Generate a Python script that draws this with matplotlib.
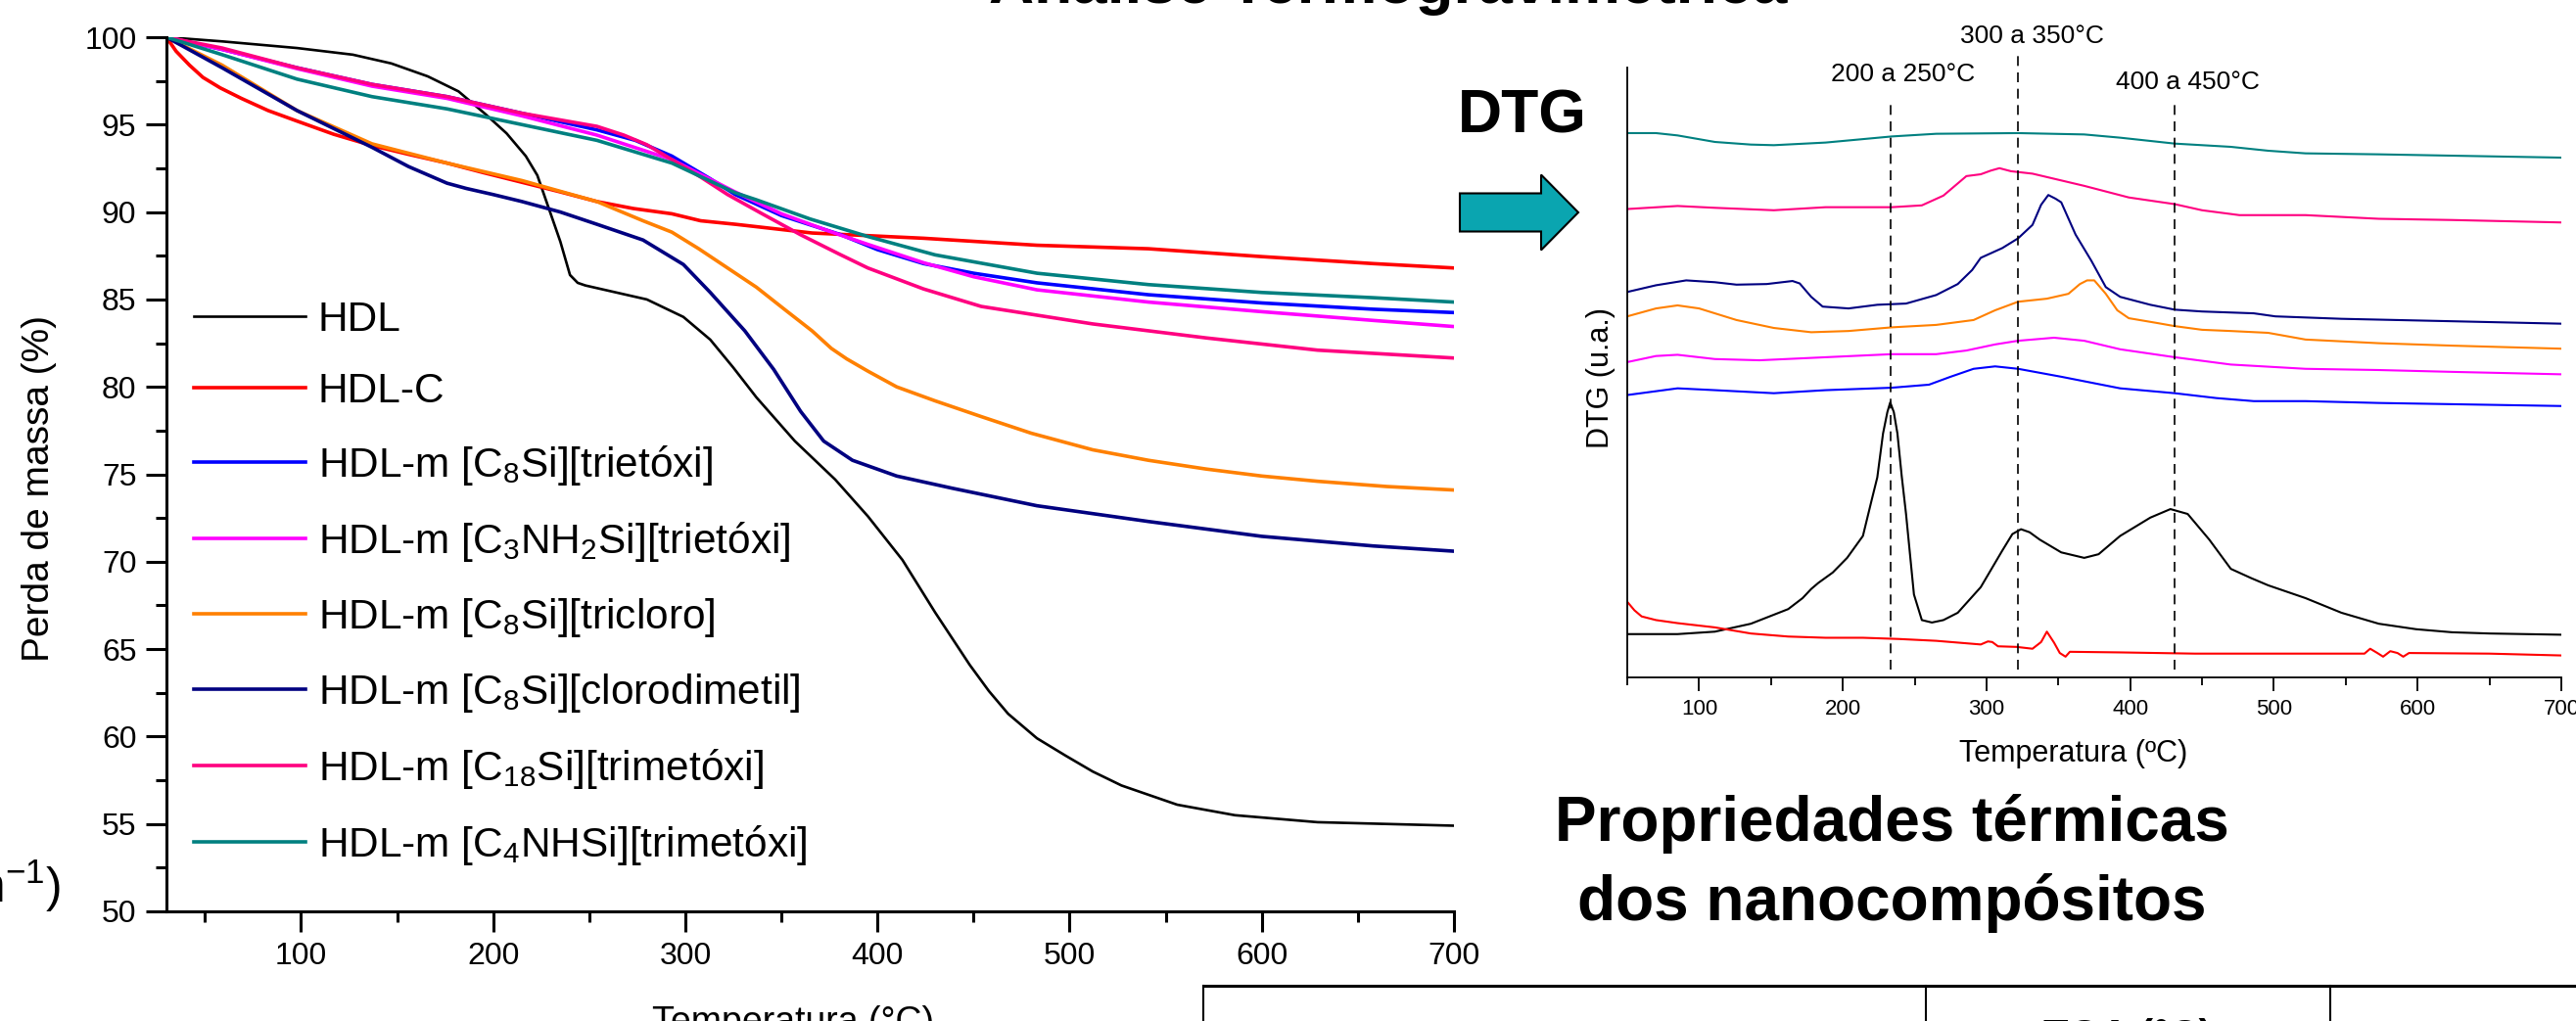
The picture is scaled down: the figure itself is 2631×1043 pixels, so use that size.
import matplotlib
matplotlib.use("Agg")
import matplotlib.pyplot as plt
from matplotlib.patches import FancyArrow
from matplotlib.lines import Line2D
from matplotlib.ticker import MultipleLocator

plt.rcParams["font.family"] = ["Liberation Sans", "DejaVu Sans"]
plt.rcParams["mathtext.fontset"] = "custom"
plt.rcParams["mathtext.rm"] = "Liberation Sans"
plt.rcParams["mathtext.it"] = "Liberation Sans:italic"
plt.rcParams["mathtext.bf"] = "Liberation Sans:bold"

# series names and colours (same order in both charts)
labels = ["HDL", "HDL-C",
          "HDL-m [C$_8$Si][trietóxi]",
          "HDL-m [C$_3$NH$_2$Si][trietóxi]",
          "HDL-m [C$_8$Si][tricloro]",
          "HDL-m [C$_8$Si][clorodimetil]",
          "HDL-m [C$_{18}$Si][trimetóxi]",
          "HDL-m [C$_4$NHSi][trimetóxi]"]
colors = ["#000000", "#FF0000", "#0000FF", "#FF00FF",
          "#FF8000", "#000080", "#FF0080", "#008080"]

# ---- TGA: mass (%) vs temperature (C)
tga_t_hdl = [30, 59, 98, 127, 147, 166, 182, 196, 207, 217, 223, 229, 235, 240, 244, 248, 256, 264,
             280, 299, 313, 325, 337, 357, 378, 395, 413, 430, 448, 458, 468, 483, 498, 512, 527, 556, 586,
             629, 700]
tga_hdl = [100, 99.76, 99.38, 99.0, 98.5, 97.76, 96.9, 95.6, 94.5, 93.2, 92.1, 90.2, 88.3, 86.4, 85.95, 85.8, 85.6, 85.4,
           85.0, 84.0, 82.7, 81.1, 79.4, 76.9, 74.7, 72.6, 70.1, 67.1, 64.1, 62.6, 61.3, 59.9, 58.9, 58.0, 57.2, 56.1,
           55.5, 55.1, 54.9]

tga_t_hdlc = [30, 35, 42, 49, 58, 69, 83, 98, 117, 137, 156, 176, 195, 215, 235, 254, 273, 293,
              308, 326, 366, 424, 483, 541, 600, 658, 700]
tga_hdlc = [100, 99.2, 98.4, 97.7, 97.1, 96.5, 95.8, 95.2, 94.45, 93.8, 93.3, 92.8, 92.25, 91.7, 91.15, 90.6, 90.2, 89.9,
            89.5, 89.3, 88.8, 88.5, 88.1, 87.9, 87.45, 87.05, 86.8]

tga_t_c8_trietoxi = [30, 59, 98, 137, 176, 215, 254, 274, 293, 313, 326, 350, 381, 400, 424, 450, 483, 541, 600, 658, 700]
tga_c8_trietoxi = [100, 99.3, 98.25, 97.3, 96.6, 95.65, 94.7, 94.1, 93.2, 91.9, 91.0, 89.8, 88.7, 87.85, 87.05, 86.5,
                   85.95, 85.27, 84.8, 84.44, 84.25]

tga_t_c3nh2 = [30, 59, 98, 137, 176, 215, 254, 293, 325, 350, 375, 395, 424, 450, 483, 541, 600, 658, 700]
tga_c3nh2 = [100, 99.3, 98.2, 97.2, 96.5, 95.5, 94.4, 93.0, 91.2, 89.9, 88.9, 88.15, 87.1, 86.3, 85.55, 84.85, 84.3,
             83.8, 83.45]

tga_t_c8_tricloro = [30, 59, 98, 137, 176, 215, 254, 278, 293, 307, 322, 337, 352, 366, 376, 384, 395, 410, 430, 454,
                     480, 512, 541, 571, 600, 629, 665, 700]
tga_c8_tricloro = [100, 98.4, 95.8, 93.9, 92.8, 91.8, 90.6, 89.5, 88.85, 87.9, 86.8, 85.7, 84.4, 83.2, 82.2, 81.6, 80.9,
                   80.0, 79.2, 78.3, 77.35, 76.4, 75.8, 75.3, 74.9, 74.6, 74.3, 74.1]

tga_t_c8_clorodimetil = [30, 59, 98, 137, 156, 176, 186, 200, 215, 235, 254, 278, 299, 313, 331, 346, 360, 372, 387,
                         410, 439, 483, 541, 600, 658, 700]
tga_c8_clorodimetil = [100, 98.25, 95.8, 93.7, 92.6, 91.65, 91.35, 91.0, 90.6, 90.0, 89.3, 88.4, 87.0, 85.4, 83.2, 81.0,
                       78.6, 76.9, 75.8, 74.9, 74.2, 73.2, 72.3, 71.45, 70.9, 70.6]

tga_t_c18 = [30, 59, 98, 137, 176, 215, 254, 268, 280, 293, 308, 322, 340, 360, 380, 395, 424, 454, 512, 571, 629, 700]
tga_c18 = [100, 99.38, 98.25, 97.3, 96.6, 95.65, 94.9, 94.4, 93.85, 93.0, 92.0, 91.0, 89.9, 88.7, 87.6, 86.8, 85.6,
           84.6, 83.6, 82.8, 82.1, 81.65]

tga_t_c4nh = [30, 59, 98, 137, 176, 215, 254, 293, 326, 337, 365, 395, 430, 483, 541, 600, 658, 700]
tga_c4nh = [100, 99.0, 97.6, 96.6, 95.9, 95.0, 94.1, 92.8, 91.1, 90.7, 89.6, 88.6, 87.55, 86.5, 85.85, 85.4, 85.1, 84.85]

# ---- DTG: stacked curves (arbitrary units, axis 0..1)
dtg_t_hdl = [50, 85, 111, 136, 162, 172, 178, 183, 193, 203, 214, 220, 224, 228, 231, 233, 235.5, 238, 241, 244,
             249.5, 255, 262, 270, 280, 296, 311, 318, 324, 330, 337, 352, 368, 378, 393, 414, 428, 440, 455, 470,
             484, 496, 522, 547, 573, 599, 624, 650, 700]
dtg_hdl = [0.071, 0.071, 0.075, 0.088, 0.112, 0.130, 0.145, 0.155, 0.172, 0.196, 0.232, 0.290, 0.328, 0.400, 0.435,
           0.451, 0.435, 0.400, 0.330, 0.268, 0.136, 0.094, 0.090, 0.094, 0.106, 0.148, 0.208, 0.235, 0.243, 0.238,
           0.226, 0.205, 0.196, 0.202, 0.232, 0.262, 0.276, 0.268, 0.226, 0.178, 0.163, 0.151, 0.130, 0.106, 0.088,
           0.079, 0.074, 0.072, 0.070]

dtg_t_hdlc = [50, 55, 60, 70, 85, 111, 136, 162, 188, 214, 239, 265, 296, 301, 304, 308, 321, 332, 338, 342, 347,
              351, 355, 358, 393, 445, 522, 563, 567, 572, 576, 581, 586, 590, 594, 650, 700]
dtg_hdlc = [0.124, 0.110, 0.100, 0.094, 0.089, 0.082, 0.072, 0.067, 0.065, 0.065, 0.063, 0.060, 0.054, 0.059, 0.058,
            0.051, 0.050, 0.047, 0.058, 0.075, 0.057, 0.040, 0.034, 0.042, 0.041, 0.039, 0.039, 0.039, 0.047, 0.040,
            0.034, 0.043, 0.040, 0.034, 0.040, 0.039, 0.036]

dtg_t_c8_trietoxi = [50, 85, 111, 152, 188, 234, 260, 275, 291, 306, 322, 352, 393, 431, 460, 486, 522, 573, 624, 700]
dtg_c8_trietoxi = [0.463, 0.474, 0.471, 0.466, 0.471, 0.475, 0.480, 0.493, 0.506, 0.510, 0.506, 0.493, 0.474, 0.466,
                   0.458, 0.453, 0.453, 0.450, 0.448, 0.445]

dtg_t_c3nh2 = [50, 70, 85, 111, 142, 188, 234, 265, 286, 306, 322, 347, 368, 393, 431, 470, 522, 573, 624, 700]
dtg_c3nh2 = [0.517, 0.527, 0.529, 0.522, 0.520, 0.525, 0.530, 0.530, 0.536, 0.546, 0.552, 0.557, 0.552, 0.538, 0.525,
             0.513, 0.506, 0.504, 0.501, 0.497]

dtg_t_c8_tricloro = [50, 70, 85, 100, 126, 152, 178, 204, 234, 265, 291, 306, 322, 342, 357, 365, 370, 375, 383, 391,
                     399, 419, 431, 450, 470, 496, 522, 573, 624, 700]
dtg_c8_tricloro = [0.592, 0.605, 0.610, 0.605, 0.586, 0.573, 0.566, 0.568, 0.574, 0.578, 0.586, 0.602, 0.616, 0.621,
                   0.629, 0.645, 0.651, 0.651, 0.629, 0.602, 0.589, 0.581, 0.576, 0.570, 0.568, 0.565, 0.554, 0.548,
                   0.544, 0.539]

dtg_t_c8_clorodimetil = [50, 70, 91, 111, 126, 147, 165, 170, 178, 186, 204, 224, 244, 265, 280, 290, 296, 311, 322,
                         332, 338, 343, 348, 352, 362, 373, 383, 393, 414, 431, 450, 486, 501, 547, 624, 700]
dtg_c8_clorodimetil = [0.632, 0.643, 0.651, 0.648, 0.644, 0.645, 0.650, 0.646, 0.624, 0.608, 0.605, 0.611, 0.613,
                       0.627, 0.645, 0.668, 0.688, 0.704, 0.720, 0.742, 0.775, 0.791, 0.785, 0.779, 0.726, 0.683,
                       0.640, 0.624, 0.611, 0.603, 0.600, 0.597, 0.592, 0.588, 0.584, 0.580]

dtg_t_c18 = [50, 85, 111, 152, 188, 234, 255, 270, 286, 296, 303, 309, 317, 332, 368, 399, 431, 450, 476, 522, 573,
             624, 700]
dtg_c18 = [0.768, 0.773, 0.770, 0.766, 0.771, 0.771, 0.774, 0.790, 0.822, 0.825, 0.831, 0.835, 0.830, 0.826, 0.806,
           0.787, 0.776, 0.766, 0.758, 0.758, 0.752, 0.750, 0.746]

dtg_t_c4nh = [50, 70, 85, 111, 136, 152, 188, 234, 265, 322, 368, 393, 431, 470, 496, 522, 573, 624, 700]
dtg_c4nh = [0.8925, 0.8925, 0.8887, 0.878, 0.8737, 0.8727, 0.877, 0.887, 0.8914, 0.8925, 0.8903, 0.885, 0.8753,
            0.870, 0.8636, 0.8593, 0.8577, 0.8555, 0.8523]

# marked decomposition ranges on the DTG chart
range_t = [233, 322, 431]
range_labels = ["200 a 250°C", "300 a 350°C", "400 a 450°C"]

tga_series = [(tga_t_hdl, tga_hdl), (tga_t_hdlc, tga_hdlc), (tga_t_c8_trietoxi, tga_c8_trietoxi),
              (tga_t_c3nh2, tga_c3nh2), (tga_t_c8_tricloro, tga_c8_tricloro),
              (tga_t_c8_clorodimetil, tga_c8_clorodimetil), (tga_t_c18, tga_c18), (tga_t_c4nh, tga_c4nh)]
dtg_series = [(dtg_t_hdl, dtg_hdl), (dtg_t_hdlc, dtg_hdlc), (dtg_t_c8_trietoxi, dtg_c8_trietoxi),
              (dtg_t_c3nh2, dtg_c3nh2), (dtg_t_c8_tricloro, dtg_c8_tricloro),
              (dtg_t_c8_clorodimetil, dtg_c8_clorodimetil), (dtg_t_c18, dtg_c18), (dtg_t_c4nh, dtg_c4nh)]

W, H = 2631, 1043
fig = plt.figure(figsize=(W / 100, H / 100), dpi=100)


def box(left, top, right, bottom):
    # pixel box -> figure fraction [l, b, w, h]
    return [left / W, 1 - bottom / H, (right - left) / W, (bottom - top) / H]


# ---------------- TGA
ax1 = fig.add_axes(box(170, 38, 1485, 931))
for (t, v), lab, c in zip(tga_series, labels, colors):
    ax1.plot(t, v, color=c, lw=1.9 if c == "#000000" else 2.6, label=lab)
ax1.set_xlim(30, 700)
ax1.set_ylim(50, 100)
ax1.xaxis.set_major_locator(MultipleLocator(100))
ax1.xaxis.set_minor_locator(MultipleLocator(50))
ax1.yaxis.set_major_locator(MultipleLocator(5))
ax1.yaxis.set_minor_locator(MultipleLocator(2.5))
for s in ["top", "right"]:
    ax1.spines[s].set_visible(False)
for s in ["left", "bottom"]:
    ax1.spines[s].set_linewidth(2.2)
ax1.tick_params(which="major", length=15, width=2.2, labelsize=23, pad=7)
ax1.tick_params(which="minor", length=8, width=2.2)
ax1.set_ylabel("Perda de massa (%)", fontsize=28)
ax1.yaxis.set_label_coords(-0.085, 0.484)
ax1.set_xlabel("Temperatura (°C)", fontsize=27)
ax1.xaxis.set_label_coords(0.487, -0.108)
ax1.legend(loc="upper left", bbox_to_anchor=(0.021, 0.699), frameon=False, fontsize=30.5,
           handlelength=2.7, handletextpad=0.3, labelspacing=0.78, borderpad=0, borderaxespad=0)

# ---------------- DTG
ax2 = fig.add_axes(box(1662, 69, 2616, 692))
for (t, v), c in zip(dtg_series, colors):
    ax2.plot(t, v, color=c, lw=1.5)
ax2.set_xlim(50, 700)
ax2.set_ylim(0, 1)
ax2.xaxis.set_major_locator(MultipleLocator(100))
ax2.xaxis.set_minor_locator(MultipleLocator(50))
ax2.set_yticks([])
for s in ["top", "right"]:
    ax2.spines[s].set_visible(False)
for s in ["left", "bottom"]:
    ax2.spines[s].set_linewidth(1.3)
ax2.tick_params(which="major", length=10, width=1.3, labelsize=16, pad=6)
ax2.tick_params(which="minor", length=5.5, width=1.3)
ax2.set_ylabel("DTG (u.a.)", fontsize=22)
ax2.yaxis.set_label_coords(-0.013, 0.491)
ax2.set_xlabel("Temperatura (ºC)", fontsize=22)
ax2.xaxis.set_label_coords(0.478, -0.101)

ax2.vlines(range_t, 0.013, [0.945, 1.019, 0.939], colors="black", lw=1.2,
           linestyles=(0, (6, 4)), clip_on=False)
for t, lab, y in zip(range_t, range_labels, [0.989, 1.051, 0.976]):
    ax2.text(t + 9 if t != 322 else t + 10, y, lab, ha="center", va="center", fontsize=19)

# ---------------- slide decorations around the charts
fig.text(1418 / W, 1 - 3 / H, "Análise Termogravimétrica", ha="center", va="baseline",
         fontsize=46, fontweight="bold")
fig.text(1555 / W, 1 - 135 / H, "DTG", ha="center", va="baseline", fontsize=45, fontweight="bold")
fig.add_artist(FancyArrow(1491 / W, 1 - 217 / H, (1612 - 1491) / W, 0, width=39 / H,
                          head_width=77 / H, head_length=38 / W, length_includes_head=True,
                          transform=fig.transFigure, fc="#0AA5B0", ec="black", lw=1.5))
fig.text(1932 / W, 1 - 859 / H, "Propriedades térmicas", ha="center", va="baseline",
         fontsize=46, fontweight="bold")
fig.text(1932 / W, 1 - 940 / H, "dos nanocompósitos", ha="center", va="baseline",
         fontsize=46, fontweight="bold")
fig.text(62 / W, 1 - 922 / H, "m$^{-1}$)", ha="right", va="baseline", fontsize=36)

# table edge at the bottom
fig.add_artist(Line2D([1229 / W, 1], [1 - 1007 / H] * 2, color="black", lw=2.2,
                      transform=fig.transFigure))
for x in [1229, 1967, 2380]:
    fig.add_artist(Line2D([x / W] * 2, [1 - 1007 / H, 0], color="black", lw=1.5,
                          transform=fig.transFigure))
fig.text(2173 / W, 1 - 1040 / H, "TGA (°C)", ha="center", va="top", fontsize=30, fontweight="bold")

fig.savefig("out.png", dpi=100, facecolor="white")
